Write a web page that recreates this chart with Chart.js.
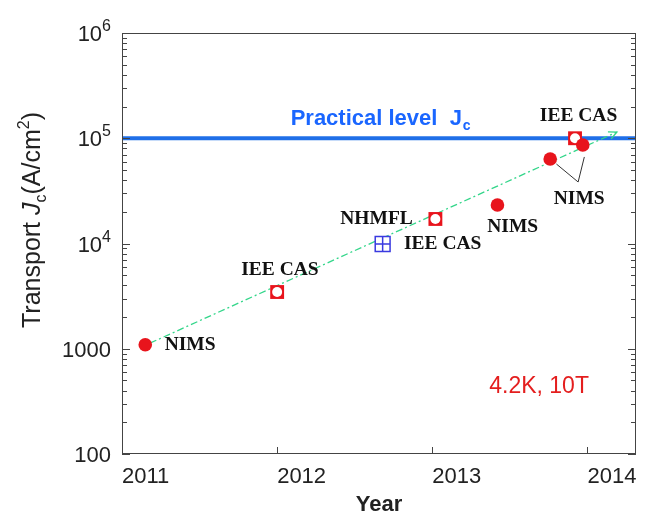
<!DOCTYPE html>
<html>
<head>
<meta charset="utf-8">
<script src="https://cdn.jsdelivr.net/npm/chart.js@4.4.0/dist/chart.umd.min.js"></script>
<style>
  html, body { margin: 0; padding: 0; background: #fff; }
  #wrap { width: 648px; height: 517px; }
</style>
</head>
<body>
<div id="wrap"><canvas id="chart" width="648" height="517"></canvas></div>
<script>
// values (x = year, y = transport Jc in A/cm2)
const circleYears = [2011.15, 2013.42, 2013.76, 2013.97];
const circleJc = [1090, 23200, 63500, 86300];
const squareYears = [2012.0, 2013.02, 2013.92];
const squareJc = [3460, 17100, 100000];
const crossYears = [2012.68];
const crossJc = [9890];
const trendYears = [2011.18, 2014.19];
const trendJc = [1130, 114600];
const calloutYears = [2013.80, 2013.94, 2013.98];
const calloutJc = [56900, 38400, 66400];
const practicalJc = 100000;
const yearTicks = [2011, 2012, 2013, 2014];
const jcTicks = [100, 1000, 10000, 100000, 1000000];
// tick label = base + superscript
const jcTickBase = ['100', '1000', '10', '10', '10'];
const jcTickSup = ['', '', '4', '5', '6'];
const yearMin = 2011, yearMax = 2014.313;

// text next to the points: [text, year, Jc]
const pointLabels = [
  ['NIMS', 2011.275, 1090],
  ['IEE CAS', 2011.768, 5600],
  ['NHMFL', 2012.407, 17100],
  ['IEE CAS', 2012.817, 9890],
  ['NIMS', 2013.354, 14350],
  ['IEE CAS', 2013.693, 162600],
  ['NIMS', 2013.783, 26500]
];

const red = '#e8141c';
const blue = '#1f6fe8';
const sans = '"Liberation Sans", Arial, sans-serif';

function pts(xs, ys) {
  return xs.map((x, i) => ({ x: x, y: ys[i] }));
}

const decor = {
  id: 'decor',
  afterDatasetsDraw(chart) {
    const ctx = chart.ctx;
    const a = chart.chartArea;
    const xs = chart.scales.x, ys = chart.scales.y;
    ctx.save();
    ctx.strokeStyle = '#444';
    ctx.lineWidth = 1;
    ctx.strokeRect(a.left + 0.5, a.top + 0.5, a.right - a.left - 1, a.bottom - a.top - 1);
    ctx.beginPath();
    // y ticks, inward on both sides
    for (let d = 100; d < 1000000; d *= 10) {
      for (let m = 1; m <= 10; m++) {
        const py = Math.round(ys.getPixelForValue(d * m)) + 0.5;
        const len = (m === 1 || m === 10) ? 8 : 5;
        ctx.moveTo(a.left, py); ctx.lineTo(a.left + len, py);
        ctx.moveTo(a.right, py); ctx.lineTo(a.right - len, py);
      }
    }
    // x ticks, inward at the bottom
    yearTicks.forEach(v => {
      const px = Math.round(xs.getPixelForValue(v)) + 0.5;
      ctx.moveTo(px, a.bottom); ctx.lineTo(px, a.bottom - 7);
    });
    ctx.stroke();

    // arrow head at the end of the trend line
    const n = trendYears.length;
    const x1 = xs.getPixelForValue(trendYears[n - 2]), y1 = ys.getPixelForValue(trendJc[n - 2]);
    const x2 = xs.getPixelForValue(trendYears[n - 1]), y2 = ys.getPixelForValue(trendJc[n - 1]);
    const ang = Math.atan2(y2 - y1, x2 - x1);
    ctx.strokeStyle = '#33d68a';
    ctx.lineWidth = 1.3;
    ctx.beginPath();
    ctx.moveTo(x2 - 9 * Math.cos(ang - 0.45), y2 - 9 * Math.sin(ang - 0.45));
    ctx.lineTo(x2, y2);
    ctx.lineTo(x2 - 9 * Math.cos(ang + 0.45), y2 - 9 * Math.sin(ang + 0.45));
    ctx.stroke();
    ctx.restore();
  },
  afterDraw(chart) {
    const ctx = chart.ctx;
    const a = chart.chartArea;
    const xs = chart.scales.x, ys = chart.scales.y;
    ctx.save();

    // y tick labels with superscripts
    ctx.fillStyle = '#222';
    ctx.textBaseline = 'alphabetic';
    ctx.textAlign = 'right';
    jcTicks.forEach((v, i) => {
      const py = ys.getPixelForValue(v) + 8;
      let rx = a.left - 11;
      if (jcTickSup[i]) {
        ctx.font = '16px ' + sans;
        ctx.fillText(jcTickSup[i], rx, py - 10);
        rx -= ctx.measureText(jcTickSup[i]).width;
      }
      ctx.font = '22px ' + sans;
      ctx.fillText(jcTickBase[i], rx, py);
    });

    // point labels
    ctx.fillStyle = '#111';
    ctx.font = 'bold 19.5px "Liberation Serif", "Times New Roman", serif';
    ctx.textAlign = 'left';
    ctx.textBaseline = 'middle';
    pointLabels.forEach(l => {
      ctx.fillText(l[0], xs.getPixelForValue(l[1]), ys.getPixelForValue(l[2]));
    });

    // practical level
    ctx.textBaseline = 'alphabetic';
    ctx.fillStyle = '#1a66ff';
    ctx.font = 'bold 22px ' + sans;
    let px = xs.getPixelForValue(2012.087), py = ys.getPixelForValue(133600);
    const t1 = 'Practical level  J';
    ctx.fillText(t1, px, py);
    px += ctx.measureText(t1).width;
    ctx.font = 'bold 14px ' + sans;
    ctx.fillText('c', px + 1, py + 5);

    // conditions
    ctx.fillStyle = '#e41e1e';
    ctx.font = '23px ' + sans;
    ctx.fillText('4.2K, 10T', xs.getPixelForValue(2013.367), ys.getPixelForValue(380));

    // y axis title with subscript / superscript
    const parts = [
      ['Transport ', '25px', 0],
      ['J', 'italic 25px', 0],
      ['c', '16px', 6],
      ['(A/cm', '25px', 0],
      ['2', '16px', -11],
      [')', '25px', 0]
    ];
    ctx.fillStyle = '#222';
    let total = 0;
    parts.forEach(p => {
      ctx.font = p[1] + ' ' + sans;
      total += ctx.measureText(p[0]).width;
    });
    ctx.translate(32, 220);
    ctx.rotate(-Math.PI / 2);
    let cx = -total / 2;
    parts.forEach(p => {
      ctx.font = p[1] + ' ' + sans;
      ctx.fillText(p[0], cx, 8 + p[2]);
      cx += ctx.measureText(p[0]).width;
    });
    ctx.restore();
  }
};

new Chart(document.getElementById('chart'), {
  type: 'scatter',
  data: {
    datasets: [
      {
        label: 'practical',
        type: 'line',
        data: pts([yearMin, yearMax], [practicalJc, practicalJc]),
        borderColor: blue,
        borderWidth: 4,
        pointRadius: 0,
        order: 6
      },
      {
        label: 'trend',
        type: 'line',
        data: pts(trendYears, trendJc),
        borderColor: '#33d68a',
        borderWidth: 1.3,
        borderDash: [7, 3, 2, 3],
        pointRadius: 0,
        order: 5
      },
      {
        label: 'callout',
        type: 'line',
        data: pts(calloutYears, calloutJc),
        borderColor: '#333',
        borderWidth: 1,
        pointRadius: 0,
        order: 4
      },
      {
        label: 'cross',
        data: pts(crossYears, crossJc),
        pointStyle: 'rect',
        pointRadius: 10.5,
        backgroundColor: '#fff',
        borderColor: '#3a3ae0',
        borderWidth: 1.5,
        order: 3
      },
      {
        label: 'crossLines',
        data: pts(crossYears, crossJc),
        pointStyle: 'cross',
        pointRadius: 7.4,
        borderColor: '#3a3ae0',
        borderWidth: 1.5,
        order: 2
      },
      {
        label: 'square',
        data: pts(squareYears, squareJc),
        pointStyle: 'rect',
        pointRadius: 9.8,
        backgroundColor: red,
        borderWidth: 0,
        order: 3
      },
      {
        label: 'squareHole',
        data: pts(squareYears, squareJc),
        pointStyle: 'circle',
        pointRadius: 5,
        backgroundColor: '#fff',
        borderWidth: 0,
        order: 2
      },
      {
        label: 'circle',
        data: pts(circleYears, circleJc),
        pointStyle: 'circle',
        pointRadius: 6.8,
        backgroundColor: red,
        borderWidth: 0,
        order: 1
      }
    ]
  },
  options: {
    responsive: false,
    animation: false,
    events: [],
    layout: { padding: { top: 33, right: 8, left: 0, bottom: 0 } },
    plugins: { legend: { display: false }, tooltip: { enabled: false } },
    scales: {
      x: {
        type: 'linear',
        min: yearMin,
        max: yearMax,
        grid: { display: false },
        border: { display: false },
        afterBuildTicks: s => { s.ticks = yearTicks.map(v => ({ value: v })); },
        afterFit: s => { s.height = 63; },
        ticks: {
          align: 'start',
          padding: 2,
          color: '#222',
          font: { family: sans, size: 22 },
          callback: v => String(v)
        },
        title: {
          display: true,
          text: 'Year',
          color: '#222',
          padding: 0,
          font: { family: sans, size: 22, weight: 'bold', lineHeight: 1.1 }
        }
      },
      y: {
        type: 'logarithmic',
        min: 100,
        max: 1000000,
        grid: { display: false },
        border: { display: false },
        afterBuildTicks: s => { s.ticks = jcTicks.map(v => ({ value: v })); },
        afterFit: s => { s.width = 122; },
        ticks: { display: false }
      }
    }
  },
  plugins: [decor]
});
</script>
</body>
</html>
